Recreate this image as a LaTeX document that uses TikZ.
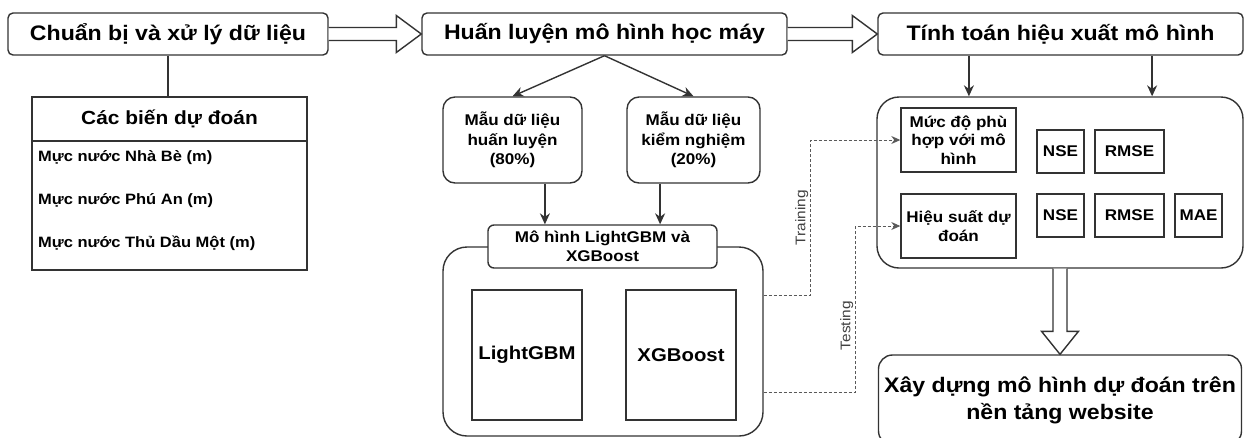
\documentclass[tikz,border=0pt]{standalone}
\usepackage{fontspec}
\setmainfont{Liberation Sans}[FakeStretch=1.1]
\usepackage{tikz}
\usetikzlibrary{arrows.meta}
\usetikzlibrary{calc}
\usetikzlibrary{positioning}
\tikzstyle{edge}=[draw=black!80, line width=1.4pt]
\tikzstyle{stage}=[edge, rounded corners=5pt, fill=white, minimum height=42pt, font=\bfseries\fontsize{21}{24}\selectfont]
\tikzstyle{plainbox}=[edge, inner sep=0pt, align=center, font=\bfseries\fontsize{15.5}{19.5}\selectfont]
\tikzstyle{softbox}=[plainbox, rounded corners=12pt]
\tikzstyle{group}=[edge, rounded corners=24pt]
\tikzstyle{rowtext}=[anchor=west, inner sep=0pt, font=\bfseries\fontsize{15}{18}\selectfont]
\tikzstyle{hollow}=[edge, fill=white, line join=miter]
\tikzstyle{flow}=[edge, -{Stealth[length=11pt, width=10pt]}]
\tikzstyle{dataflow}=[draw=black!65, line width=0.9pt, dash pattern=on 3pt off 2pt, -{Stealth[length=9pt, width=8pt]}]
\tikzstyle{datalabel}=[inner sep=2pt, text=black!75, font=\fontsize{14}{16}\selectfont]

\begin{document}
\begin{tikzpicture}[x=1pt, y=1pt]
\useasboundingbox (0,0) rectangle (1246,-437);
\clip (0,0) rectangle (1246,-437);
\node[stage, minimum width=320pt] (prep) at (168,-34) {Chuẩn bị và xử lý dữ liệu};
\node[stage, minimum width=365pt] (train) at (604.5,-34) {Huấn luyện mô hình học máy};
\node[stage, minimum width=365pt] (eval) at (1060.5,-34) {Tính toán hiệu xuất mô hình};
\node[plainbox, minimum width=275pt, minimum height=44pt, font=\bfseries\fontsize{19}{22}\selectfont] (vars) at (169.5,-119) {Các biến dự đoán};
\node[plainbox, minimum width=275pt, minimum height=129pt] (varlist) at (169.5,-205.5) {};
\node[rowtext] (nhabe) at (38,-158) {Mực nước Nhà Bè (m)};
\node[rowtext] (phuan) at (38,-201) {Mực nước Phú An (m)};
\node[rowtext] (tdm) at (38,-243) {Mực nước Thủ Dầu Một (m)};
\node[softbox, minimum width=139pt, minimum height=86pt] (trainset) at (512.5,-140) {Mẫu dữ liệu\\huấn luyện\\(80\%)};
\node[softbox, minimum width=133pt, minimum height=86pt] (testset) at (693.5,-140) {Mẫu dữ liệu\\kiểm nghiệm\\(20\%)};
\node[group, minimum width=320pt, minimum height=189pt] (models) at (603,-341.5) {};
\node[softbox, rounded corners=6pt, fill=white, minimum width=229pt, minimum height=43pt] (modelname) at (602.5,-246.5) {Mô hình LightGBM và\\XGBoost};
\node[plainbox, minimum width=110pt, minimum height=130pt, font=\bfseries\fontsize{18.5}{22}\selectfont] (lgbm) at (527,-355) {LightGBM};
\node[plainbox, minimum width=110pt, minimum height=130pt, font=\bfseries\fontsize{18.5}{22}\selectfont] (xgb) at (681,-355) {XGBoost};
\node[group, rounded corners=22pt, minimum width=366pt, minimum height=171pt] (metrics) at (1060,-182.5) {};
\node[plainbox, minimum width=115pt, minimum height=64pt, font=\bfseries\fontsize{15.5}{18.5}\selectfont] (fit) at (958.5,-140) {Mức độ phù\\hợp với mô\\hình};
\node[plainbox, minimum width=47pt, minimum height=43pt] (nsefit) at (1060.5,-151.5) {NSE};
\node[plainbox, minimum width=69pt, minimum height=43pt] (rmsefit) at (1129.5,-151.5) {RMSE};
\node[plainbox, minimum width=115pt, minimum height=64pt, font=\bfseries\fontsize{15.5}{18.5}\selectfont] (pred) at (958.5,-226) {Hiệu suất dự\\đoán};
\node[plainbox, minimum width=47pt, minimum height=43pt] (nsepred) at (1060.5,-215.5) {NSE};
\node[plainbox, minimum width=69pt, minimum height=43pt] (rmsepred) at (1129.5,-215.5) {RMSE};
\node[plainbox, minimum width=47pt, minimum height=43pt] (maepred) at (1198.5,-215.5) {MAE};
\node[softbox, rounded corners=14pt, minimum width=363pt, minimum height=90pt, font=\bfseries\fontsize{21}{27}\selectfont] (web) at (1060,-400) {Xây dựng mô hình dự đoán trên\\nền tảng website};
\coordinate (in1) at ($(modelname.north west)!0.25!(modelname.north east)$);
\coordinate (in2) at ($(modelname.north west)!0.75!(modelname.north east)$);
\coordinate (out1) at ($(eval.south west)!0.25!(eval.south east)$);
\coordinate (out2) at ($(eval.south west)!0.75!(eval.south east)$);
\draw[edge](prep.south) -- (prep.south |- vars.north);
\draw[flow](train.south) -- (trainset.north);
\draw[flow](train.south) -- (testset.north);
\draw[flow](trainset.south -| in1) -- (in1);
\draw[flow](testset.south -| in2) -- (in2);
\draw[flow](out1) -- (out1 |- metrics.north);
\draw[flow](out2) -- (out2 |- metrics.north);
\draw[dataflow]($(models.east)+(0,46.5)$) -- ++(47,0) |- node[datalabel, pos=0.25, rotate=90, anchor=south]{Training} (fit.west);
\draw[dataflow]($(models.east)+(0,-50.5)$) -- ++(92,0) |- node[datalabel, pos=0.2, rotate=90, anchor=south]{Testing} (pred.west);
\draw[hollow]($(prep.east)+(0,6.5)$) -- ($(train.west)+(-25,6.5)$) -- ++(0,12) -- (train.west) -- ($(train.west)+(-25,-18.5)$) -- ++(0,12) -- ($(prep.east)+(0,-6.5)$);
\draw[hollow]($(train.east)+(0,6.5)$) -- ($(eval.west)+(-25,6.5)$) -- ++(0,12) -- (eval.west) -- ($(eval.west)+(-25,-18.5)$) -- ++(0,12) -- ($(train.east)+(0,-6.5)$);
\draw[hollow]($(metrics.south)+(-7,0)$) -- ($(web.north)+(-7,23)$) -- ++(-11.5,0) -- (web.north) -- ($(web.north)+(18.5,23)$) -- ++(-11.5,0) -- ($(metrics.south)+(7,0)$);
\end{tikzpicture}
\end{document}
